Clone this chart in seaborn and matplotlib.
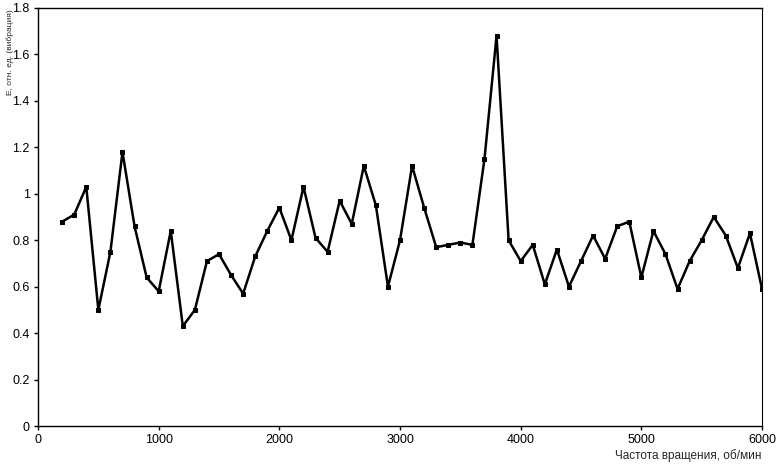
import numpy as np
import pandas as pd
import seaborn as sns
import matplotlib
matplotlib.use("Agg")
import matplotlib.pyplot as plt

# частота вращения, об/мин
rpm = list(range(200, 6001, 100))
# значения
values = [0.88, 0.91, 1.03, 0.50, 0.75, 1.18, 0.86, 0.64, 0.58, 0.84,
          0.43, 0.50, 0.71, 0.74, 0.65, 0.57, 0.73, 0.84, 0.94, 0.80,
          1.03, 0.81, 0.75, 0.97, 0.87, 1.12, 0.95, 0.60, 0.80, 1.12,
          0.94, 0.77, 0.78, 0.79, 0.78, 1.15, 1.68, 0.80, 0.71, 0.78,
          0.61, 0.76, 0.60, 0.71, 0.82, 0.72, 0.86, 0.88, 0.64, 0.84,
          0.74, 0.59, 0.71, 0.80, 0.90, 0.82, 0.68, 0.83, 0.59]
x_ticks = [0, 1000, 2000, 3000, 4000, 5000, 6000]
y_ticks = [0, 0.2, 0.4, 0.6, 0.8, 1, 1.2, 1.4, 1.6, 1.8]
y_tick_labels = ["0", "0.2", "0.4", "0.6", "0.8", "1", "1.2", "1.4", "1.6", "1.8"]

df = pd.DataFrame({"rpm": rpm, "E": values})

sns.set_style("white")
plt.rcParams["font.family"] = ["Liberation Sans", "DejaVu Sans"]

fig = plt.figure(figsize=(7.79, 4.68), dpi=100)
ax = fig.add_axes([0.0488, 0.0897, 0.9294, 0.8933])

sns.lineplot(data=df, x="rpm", y="E", ax=ax, color="black", linewidth=1.8,
             marker="s", markersize=3.5, markeredgecolor="black")

ax.set_xlim(0, 6000)
ax.set_ylim(0, 1.8)
ax.set_xticks(x_ticks)
ax.set_yticks(y_ticks)
ax.set_yticklabels(y_tick_labels)
ax.tick_params(axis="both", direction="out", length=3, width=1, labelsize=9,
               colors="black", pad=3)
ax.tick_params(axis="x", bottom=True)
ax.tick_params(axis="y", left=True)

for side in ["left", "bottom", "top"]:
    ax.spines[side].set_color("black")
    ax.spines[side].set_linewidth(1)
ax.spines["right"].set_color("black")
ax.spines["right"].set_linewidth(0.8)
ax.spines["right"].set_linestyle((0, (1, 1)))

ax.set_xlabel("")
ax.set_ylabel("")
fig.text(0.978, 0.012, "Частота вращения, об/мин", ha="right", va="bottom",
         fontsize=8.5)
fig.text(0.008, 0.98, "Е, отн. ед. (вибрация)", rotation=90, ha="left",
         va="top", fontsize=6)

fig.savefig("out.png", dpi=100)
